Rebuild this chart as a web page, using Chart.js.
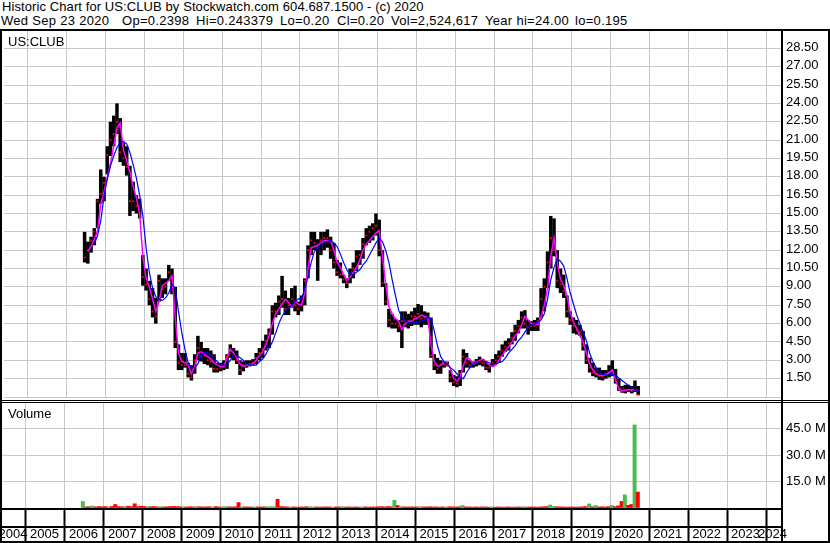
<!DOCTYPE html>
<html lang="en">
<head>
<meta charset="UTF-8">
<title>Historic Chart for US:CLUB</title>
<script src="https://cdn.jsdelivr.net/npm/chart.js"></script>
<style>
  body { margin: 0; background: #fff; }
  #wrap { position: relative; width: 830px; height: 543px; overflow: hidden;
          font-family: "Liberation Sans", Arial, sans-serif; font-size: 13px; color: #000; }
  #wrap canvas { position: absolute; left: 0; }
  .txt { position: absolute; white-space: pre; line-height: 14px; }
  .h2 { top: 14px; letter-spacing: 0.3px; }
  .ln { position: absolute; background: #000; }
</style>
</head>
<body>
<div id="wrap">
  <div class="txt" style="left:2px;top:0;letter-spacing:0.09px">Historic Chart for US:CLUB by Stockwatch.com 604.687.1500 - (c) 2020</div>
  <div class="txt h2" style="left:1px">Wed Sep 23 2020</div>
  <div class="txt h2" style="left:122px">Op=0.2398</div>
  <div class="txt h2" style="left:196px">Hi=0.243379</div>
  <div class="txt h2" style="left:280px">Lo=0.20</div>
  <div class="txt h2" style="left:337px">Cl=0.20</div>
  <div class="txt h2" style="left:391px">Vol=2,524,617</div>
  <div class="txt h2" style="left:485px">Year hi=24.00</div>
  <div class="txt h2" style="left:575px">lo=0.195</div>

  <canvas id="priceChart" width="830" height="401" style="top:0"></canvas>
  <canvas id="volumeChart" width="830" height="142" style="top:401px"></canvas>

  <div class="txt" style="left:8px;top:35px">US:CLUB</div>
  <div class="txt" style="left:8px;top:407px">Volume</div>

  <!-- frame -->
  <div class="ln" style="left:0;top:29px;width:830px;height:2px"></div>
  <div class="ln" style="left:0;top:29px;width:2px;height:514px"></div>
  <div class="ln" style="left:781px;top:29px;width:2px;height:514px"></div>
  <div class="ln" style="left:828px;top:29px;width:2px;height:514px"></div>
  <div class="ln" style="left:0;top:400px;width:830px;height:1px"></div>
  <div class="ln" style="left:0;top:402px;width:830px;height:1px"></div>
  <div class="ln" style="left:0;top:508px;width:783px;height:2px"></div>
  <div class="ln" style="left:0;top:526px;width:783px;height:2px"></div>
  <div class="ln" style="left:0;top:541px;width:830px;height:2px"></div>
</div>

<script>
// ---- data (monthly, Jun 2006 .. Sep 2020) ----
const years = ['2004','2005','2006','2007','2008','2009','2010','2011','2012','2013','2014',
               '2015','2016','2017','2018','2019','2020','2021','2022','2023','2024'];
const startYear = 2006, startMonth = 6;

const highs = [
  13.5, 12.7, 13.1, 13.8, 16.2, 18.6, 18.0,
  20.5, 22.5, 23.0, 24.0, 22.8, 20.8, 20.5, 18.9, 17.6, 16.5, 16.2, 11.6,
  10.5, 9.5, 8.9, 8.1, 10.0, 9.7, 9.7, 10.8, 10.5, 9.0, 4.3, 3.6,
  3.6, 2.8, 2.6, 3.5, 5.0, 4.5, 4.0, 4.0, 3.8, 3.5, 2.8, 2.8,
  3.0, 3.5, 4.3, 4.0, 3.8, 3.0, 2.9, 3.0, 3.0, 3.1, 3.6, 4.0,
  4.6, 5.1, 5.6, 7.5, 7.7, 8.3, 9.9, 8.7, 8.1, 8.9, 9.1, 7.8,
  8.3, 9.7, 12.4, 13.5, 13.5, 12.9, 13.5, 13.5, 13.7, 13.1, 12.6, 11.2,
  11.0, 10.0, 9.7, 10.5, 11.0, 12.0, 12.0, 13.0, 13.8, 14.0, 14.2, 15.0,
  14.5, 12.0, 9.3, 7.2, 6.8, 6.4, 6.3, 7.0, 7.0, 6.8, 7.0, 7.3,
  7.6, 7.5, 7.0, 6.9, 6.5, 3.5, 3.2, 3.0, 2.9, 2.9, 2.2, 1.8,
  1.7, 2.2, 3.9, 3.6, 3.0, 2.9, 3.1, 3.3, 3.1, 2.9, 2.7, 3.1,
  3.5, 3.8, 4.3, 4.6, 4.8, 5.3, 5.9, 6.3, 7.0, 7.1, 6.3, 6.2,
  6.3, 6.5, 8.9, 9.7, 11.9, 14.8, 14.6, 12.0, 10.5, 10.0, 8.3, 7.0,
  6.5, 6.3, 5.9, 5.4, 4.3, 3.2, 2.8, 2.4, 2.4, 2.2, 2.2, 2.6,
  3.0, 2.3, 1.5, 0.9, 1.0, 1.0, 0.9, 1.35, 0.9
];
const lows = [
  11.0, 10.9, 11.8, 12.4, 13.8, 15.8, 16.0,
  18.2, 19.7, 20.5, 21.5, 19.2, 18.9, 18.1, 14.8, 15.2, 15.0, 14.6, 9.1,
  8.7, 7.5, 6.5, 6.0, 7.8, 8.1, 8.4, 9.5, 8.4, 4.0, 2.2, 2.2,
  2.4, 1.6, 1.35, 1.9, 3.0, 2.9, 2.7, 2.6, 2.4, 2.0, 2.0, 2.1,
  2.2, 2.3, 3.2, 3.0, 2.7, 1.8, 2.1, 2.4, 2.5, 2.6, 2.7, 3.0,
  3.2, 3.8, 4.0, 5.1, 6.5, 6.7, 7.3, 6.7, 6.7, 7.3, 7.0, 6.7,
  7.0, 7.5, 9.7, 11.6, 12.0, 9.5, 11.6, 12.0, 12.2, 11.3, 10.5, 9.9,
  9.7, 9.3, 8.9, 9.3, 9.7, 10.3, 10.8, 11.3, 12.4, 12.6, 12.8, 13.2,
  11.5, 9.0, 7.5, 5.7, 5.6, 5.6, 5.3, 4.0, 5.7, 5.6, 5.8, 5.9,
  5.9, 5.7, 5.9, 5.9, 3.2, 2.2, 1.9, 1.9, 2.4, 2.5, 1.2, 0.9,
  0.8, 0.9, 2.0, 2.4, 2.4, 2.4, 2.5, 2.6, 2.5, 2.2, 2.0, 2.5,
  2.7, 2.8, 3.3, 3.7, 3.8, 4.3, 4.6, 5.2, 5.6, 5.6, 5.1, 5.4,
  5.4, 5.4, 6.5, 7.0, 8.9, 10.5, 11.5, 8.9, 8.5, 8.1, 6.5, 5.9,
  5.2, 5.1, 5.0, 3.8, 2.7, 2.0, 1.7, 1.6, 1.4, 1.35, 1.5, 1.6,
  1.7, 1.1, 0.5, 0.35, 0.3, 0.4, 0.3, 0.4, 0.15
];
// month-end closes (red marks)
const closes = [
  11.4, 12.0, 12.8, 13.5, 16.0, 16.6, 17.5,
  19.8, 21.0, 21.5, 22.5, 20.0, 19.5, 18.8, 16.0, 16.0, 15.6, 15.0, 9.8,
  9.2, 8.0, 7.0, 6.6, 9.5, 8.8, 9.0, 10.2, 9.0, 4.5, 2.8, 2.6,
  2.6, 1.9, 1.6, 3.0, 4.0, 3.3, 3.4, 3.0, 2.9, 2.3, 2.3, 2.4,
  2.5, 3.3, 3.8, 3.4, 3.0, 2.2, 2.6, 2.6, 2.7, 2.8, 3.2, 3.6,
  3.9, 4.6, 5.2, 7.0, 7.0, 7.8, 8.0, 7.2, 7.5, 8.0, 7.5, 7.2,
  7.6, 9.5, 12.0, 12.8, 12.6, 12.3, 12.8, 13.0, 13.0, 12.0, 11.0, 10.2,
  10.0, 9.6, 9.3, 10.0, 10.5, 11.5, 11.6, 12.5, 13.2, 13.5, 13.8, 14.0,
  12.0, 9.3, 7.8, 6.3, 6.0, 6.0, 5.8, 6.2, 6.2, 6.2, 6.6, 6.6,
  6.8, 6.4, 6.5, 6.4, 3.4, 2.6, 2.3, 2.6, 2.7, 2.6, 1.6, 1.2,
  1.1, 1.9, 3.3, 2.8, 2.6, 2.7, 2.9, 2.9, 2.8, 2.4, 2.4, 2.8,
  3.0, 3.3, 3.8, 4.1, 4.4, 4.8, 5.4, 5.8, 6.5, 6.0, 5.7, 5.8,
  5.8, 6.2, 8.0, 9.0, 11.0, 13.0, 12.0, 9.5, 9.2, 8.7, 7.0, 6.3,
  5.8, 5.5, 5.3, 4.2, 3.0, 2.4, 2.0, 1.9, 1.7, 1.7, 1.9, 2.0,
  2.2, 1.3, 0.6, 0.5, 0.6, 0.6, 0.5, 0.6, 0.2
];
// short moving average (magenta)
const maShort = [
  null, 11.9, 12.3, 12.9, 13.6, 15.8, 16.8,
  17.9, 19.1, 20.5, 22.0, 22.4, 20.2, 19.3, 18.4, 17.2, 16.3, 15.0, 11.5,
  9.7, 9.0, 8.0, 7.0, 7.8, 9.1, 9.3, 9.5, 9.9, 6.5, 3.6, 2.9,
  2.8, 2.6, 1.9, 2.5, 3.6, 3.7, 3.5, 3.3, 3.1, 2.8, 2.6, 2.5,
  2.5, 3.2, 3.9, 3.6, 3.2, 2.7, 2.5, 2.6, 2.6, 2.7, 3.0, 3.4,
  3.7, 4.3, 5.0, 6.0, 6.8, 7.2, 7.6, 8.0, 7.7, 7.4, 7.8, 7.6,
  7.5, 8.5, 10.5, 12.2, 12.3, 12.4, 12.6, 12.8, 12.8, 12.8, 12.0, 11.0,
  10.6, 10.0, 9.5, 9.8, 10.2, 10.6, 11.2, 12.0, 12.5, 12.8, 13.1, 13.4,
  13.6, 11.5, 9.2, 7.4, 6.8, 6.4, 6.2, 5.5, 6.0, 6.2, 6.2, 6.4,
  6.5, 6.7, 6.6, 6.5, 4.3, 2.9, 2.5, 2.6, 2.9, 2.8, 2.3, 1.5,
  1.3, 1.6, 2.6, 3.2, 3.1, 2.7, 2.8, 3.0, 3.1, 2.9, 2.6, 2.5,
  2.6, 3.0, 3.4, 3.8, 4.1, 4.5, 5.0, 5.3, 5.9, 6.6, 6.3, 6.0,
  6.0, 5.9, 6.6, 7.5, 8.9, 11.5, 13.0, 11.0, 9.6, 9.1, 8.3, 6.9,
  6.1, 5.6, 5.0, 4.5, 3.6, 2.7, 2.2, 1.9, 1.75, 1.75, 1.8, 2.0,
  2.2, 1.4, 0.7, 0.5, 0.55, 0.6, 0.6, 0.6, 0.5
];
// long moving average (blue)
const maLong = [
  null, null, null, 12.5, 13.2, 14.4, 16.4,
  17.8, 18.9, 19.7, 20.4, 20.8, 20.9, 20.7, 20.0, 19.0, 17.9, 16.5, 14.8,
  12.2, 10.2, 8.9, 8.2, 8.0, 7.9, 8.1, 8.5, 9.2, 8.9, 7.0, 5.3,
  3.9, 2.8, 2.4, 2.4, 2.7, 3.4, 3.6, 3.6, 3.4, 3.1, 2.9, 2.6,
  2.6, 2.7, 3.0, 3.4, 3.4, 3.2, 3.0, 2.7, 2.6, 2.6, 2.6, 2.9,
  3.1, 3.5, 4.0, 4.5, 5.2, 6.0, 6.6, 7.0, 7.3, 7.5, 7.8, 8.0,
  8.1, 8.8, 9.8, 11.0, 11.9, 12.2, 12.5, 12.6, 12.7, 12.8, 12.6, 12.3,
  11.7, 11.0, 10.4, 10.0, 10.0, 10.2, 10.4, 10.8, 11.1, 11.6, 12.1, 12.6,
  13.0, 12.7, 12.0, 11.0, 9.6, 8.3, 7.1, 6.5, 6.2, 6.1, 6.0, 6.1,
  6.1, 6.2, 6.3, 6.5, 6.4, 5.4, 4.2, 3.3, 2.9, 2.7, 2.4, 2.2,
  1.9, 1.6, 1.5, 2.0, 2.4, 2.7, 2.8, 2.9, 2.9, 2.9, 2.8, 2.7,
  2.7, 2.8, 2.9, 3.2, 3.6, 3.9, 4.2, 4.6, 4.9, 5.3, 5.7, 5.9,
  6.0, 6.1, 6.3, 6.8, 8.0, 9.6, 10.6, 11.3, 11.1, 10.7, 9.7, 8.5,
  7.6, 6.7, 6.0, 5.3, 4.6, 3.6, 2.9, 2.4, 2.0, 1.85, 1.8, 1.8,
  1.85, 1.8, 1.55, 1.35, 1.15, 0.95, 0.75, 0.6, 0.5
];
// volume in millions of shares
const volumes = [
  3.7, 0.6, 0.7, 1.1, 0.6, 0.8, 0.7,
  0.8, 0.7, 0.9, 2.0, 0.8, 0.7, 0.9, 1.0, 0.8, 2.4, 0.8, 1.0,
  0.9, 0.8, 0.7, 0.8, 0.6, 0.7, 0.6, 0.7, 0.8, 0.9, 0.8, 0.7,
  0.7, 0.6, 0.7, 0.6, 0.8, 0.7, 0.6, 0.6, 0.7, 0.6, 0.8, 0.6,
  0.7, 0.8, 0.6, 0.6, 0.7, 3.1, 0.7, 0.6, 0.6, 0.5, 0.6, 0.6,
  0.6, 0.6, 0.7, 0.8, 0.7, 5.0, 0.8, 0.7, 0.6, 0.6, 0.6, 0.5,
  0.6, 0.6, 0.7, 0.7, 0.6, 0.6, 0.5, 0.6, 0.6, 0.6, 0.5, 0.6,
  0.6, 0.7, 0.5, 0.6, 0.5, 0.6, 0.5, 0.6, 0.6, 0.5, 0.6, 0.6,
  0.7, 0.8, 0.6, 0.8, 0.7, 4.4, 1.4, 0.8, 0.6, 0.6, 0.6, 0.6,
  0.6, 0.7, 0.6, 0.6, 0.7, 0.6, 0.6, 0.5, 0.6, 0.6, 0.7, 0.6,
  0.6, 0.7, 1.4, 0.6, 0.6, 0.5, 0.6, 0.5, 0.6, 0.6, 0.5, 0.6,
  0.5, 0.6, 0.5, 0.5, 0.6, 0.5, 0.5, 0.6, 0.5, 0.7, 0.5, 0.6,
  0.6, 0.5, 0.6, 0.7, 0.8, 1.7, 0.9, 0.7, 0.6, 0.6, 0.5, 0.6,
  0.6, 0.5, 0.6, 0.7, 0.8, 2.3, 0.7, 1.4, 0.6, 0.7, 0.6, 0.8,
  1.4, 0.8, 1.2, 3.7, 7.4, 1.5, 2.0, 47.0, 9.0
];
// 1 = up (green), 0 = down (red)
const volumeUp = [
  '1001000',
  '010000100000', '010001000000', '100010000100', '110000100010',
  '001110000100', '000110000010', '010000010000', '000001010000',
  '010000000100', '001000000001', '000000000100', '000001100000',
  '000001010000', '100010010'
].join('');

// ---- helpers ----
const FONT = { family: '"Liberation Sans", Arial, sans-serif', size: 13 };
const GRID = '#c8c8c8';
const X_MIN = 2004.384, X_MAX = 2024.384;
const yearBounds = years.slice(1).map(Number);
const labelPos = years.map((y, i) => {
  if (i === 0) return (X_MIN + yearBounds[0]) / 2;
  if (i === years.length - 1) return (Number(y) + X_MAX) / 2;
  return Number(y) + 0.5;
});
const monthX = i => {
  const m = startMonth - 1 + i;
  return startYear + Math.floor(m / 12) + ((m % 12) + 0.5) / 12;
};
const xy = arr => arr.map((v, i) => ({ x: monthX(i), y: v }));

function fixedRightAxis(s) {
  s.width = 49;
  s.paddingTop = 0;
  s.paddingBottom = 0;
}

Chart.defaults.font.family = FONT.family;
Chart.defaults.color = '#000';

// ---- price panel ----
new Chart(document.getElementById('priceChart'), {
  type: 'bar',
  data: {
    datasets: [
      { type: 'line', data: xy(maLong), borderColor: '#0000ff', borderWidth: 1.2,
        pointRadius: 0, tension: 0, order: 0 },
      { type: 'line', data: xy(maShort), borderColor: '#ff00ff', borderWidth: 1.5,
        pointRadius: 0, tension: 0, order: 1 },
      { type: 'scatter', data: xy(closes), pointStyle: 'rect', pointRadius: 1.3,
        backgroundColor: '#ff0000', borderWidth: 0, order: 2 },
      { type: 'bar', data: highs.map((h, i) => ({ x: monthX(i), y: [lows[i], h] })),
        backgroundColor: '#000', categoryPercentage: 1, barPercentage: 1.08, order: 3 }
    ]
  },
  options: {
    responsive: false,
    animation: false,
    layout: { padding: { left: 2, top: 30, right: 0, bottom: 1 } },
    plugins: { legend: { display: false }, tooltip: { enabled: false } },
    scales: {
      x: {
        type: 'linear', min: X_MIN, max: X_MAX, offset: false,
        afterBuildTicks: s => { s.ticks = yearBounds.map(v => ({ value: v })); },
        ticks: { display: false },
        grid: { color: GRID, drawTicks: false, offset: false },
        border: { display: false },
        afterFit: s => { s.height = 0; }
      },
      y: {
        position: 'right', min: 0, max: 30,
        ticks: { stepSize: 1.5, autoSkip: false, padding: 5, labelOffset: -1, font: FONT, color: '#000',
                 callback: v => (v <= 0 || v >= 30) ? '' : v.toFixed(2) },
        grid: { color: GRID, drawTicks: false },
        border: { display: false },
        afterFit: fixedRightAxis
      }
    }
  }
});

// ---- volume panel + year strip ----
new Chart(document.getElementById('volumeChart'), {
  type: 'bar',
  data: {
    datasets: [{
      data: xy(volumes),
      backgroundColor: volumes.map((v, i) => volumeUp[i] === '1' ? '#4cbb4c' : '#ff0000'),
      categoryPercentage: 1, barPercentage: 1
    }]
  },
  options: {
    responsive: false,
    animation: false,
    layout: { padding: { left: 2, top: 1, right: 0, bottom: 0 } },
    plugins: { legend: { display: false }, tooltip: { enabled: false } },
    scales: {
      x: {
        type: 'linear', min: X_MIN, max: X_MAX, position: 'bottom', weight: 0, offset: false,
        afterBuildTicks: s => { s.ticks = yearBounds.map(v => ({ value: v })); },
        ticks: { display: false },
        grid: { color: GRID, offset: false, drawTicks: true, tickLength: 33, tickColor: '#000', tickWidth: 2 },
        border: { display: false },
        afterFit: s => { s.height = 0; }
      },
      years: {
        type: 'linear', min: X_MIN, max: X_MAX, position: 'bottom', weight: 1, offset: false,
        afterBuildTicks: s => { s.ticks = labelPos.map(v => ({ value: v })); },
        ticks: { autoSkip: false, minRotation: 0, maxRotation: 0, padding: 18.5, labelOffset: -1,
                 font: FONT, color: '#000', callback: (v, i) => years[i] },
        grid: { display: false, drawTicks: false, offset: false },
        border: { display: false },
        afterFit: s => { s.height = 35; s.paddingLeft = 0; s.paddingRight = 0; }
      },
      y: {
        position: 'right', min: 0, max: 60,
        ticks: { stepSize: 15, autoSkip: false, padding: 5, font: FONT, color: '#000',
                 callback: v => (v <= 0 || v >= 60) ? '' : v.toFixed(1) + ' M' },
        grid: { color: GRID, drawTicks: false },
        border: { display: false },
        afterFit: fixedRightAxis
      }
    }
  }
});
</script>
</body>
</html>
